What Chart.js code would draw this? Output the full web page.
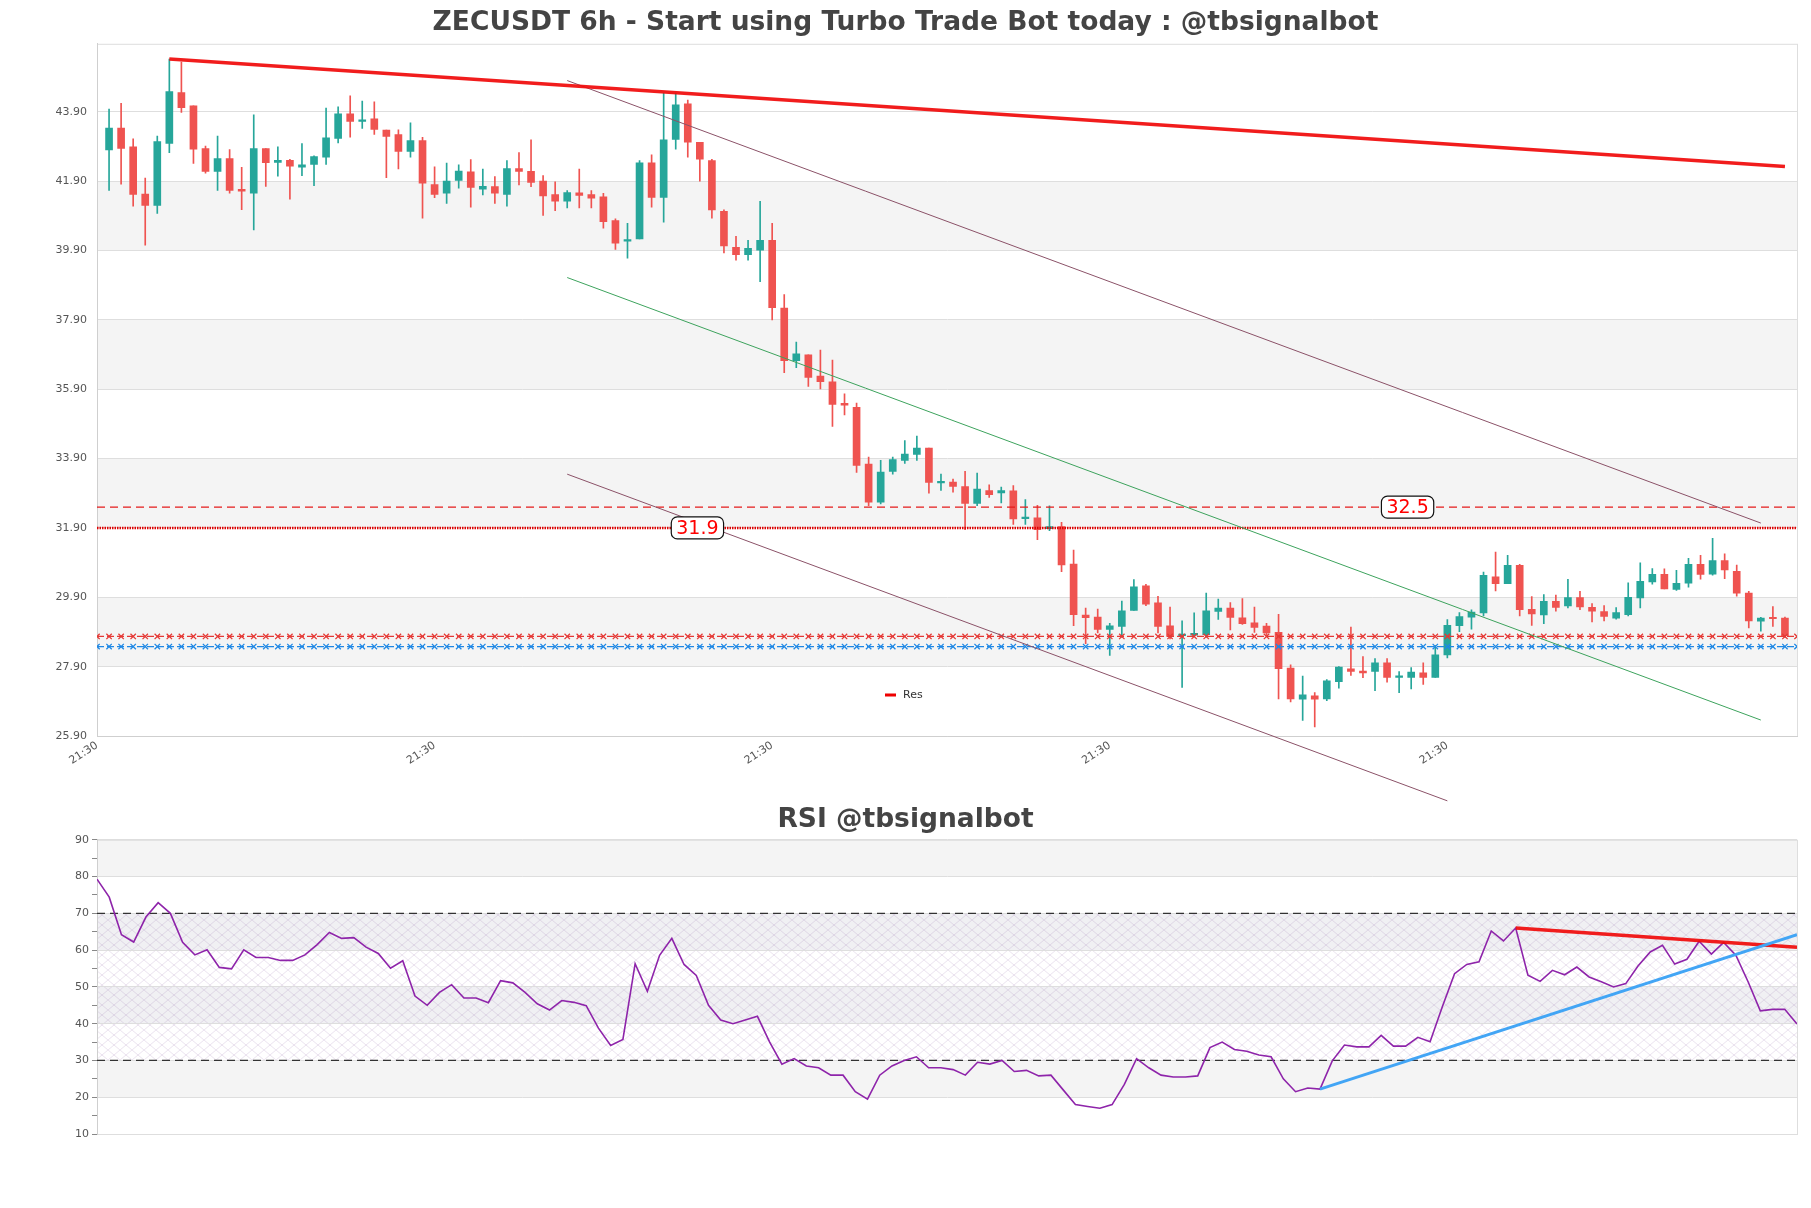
<!DOCTYPE html>
<html>
<head>
<meta charset="utf-8">
<script src="https://cdn.jsdelivr.net/npm/chart.js@4.4.0/dist/chart.umd.min.js"></script>
<style>
html, body { margin: 0; padding: 0; background: #fff; }
#wrap { position: relative; width: 1811px; height: 1208px; }
#priceBox { position: absolute; left: 0; top: 0; width: 1811px; height: 808px; }
#rsiBox { position: absolute; left: 0; top: 790px; width: 1811px; height: 418px; }
</style>
</head>
<body>
<div id="wrap">
  <div id="priceBox"><canvas id="priceChart"></canvas></div>
  <div id="rsiBox"><canvas id="rsiChart"></canvas></div>
</div>
<script>
// candles (6h), index 0..139
const opens = [42.80,43.43,42.89,41.53,41.20,42.99,44.45,44.07,42.84,42.18,42.55,41.66,41.55,42.84,42.44,42.50,42.30,42.38,42.59,43.13,
  43.84,43.62,43.70,43.37,43.24,42.76,43.07,41.80,41.55,41.92,42.17,41.67,41.74,41.52,42.26,42.18,41.90,41.51,41.32,41.56,
  41.51,41.45,40.76,40.17,40.23,42.43,41.43,43.10,44.13,43.02,42.49,41.03,39.99,39.78,39.91,40.19,38.24,36.72,36.89,36.28,
  36.11,35.49,35.38,33.74,32.64,33.53,33.85,34.02,34.20,33.20,33.22,33.09,32.61,32.98,32.91,32.97,32.17,32.19,31.88,31.94,
  30.86,29.39,29.33,28.97,29.06,29.52,30.23,29.74,29.08,28.79,28.81,28.82,29.49,29.59,29.31,29.16,29.07,28.89,27.86,26.96,
  27.06,26.97,27.47,27.84,27.77,27.76,28.01,27.59,27.59,27.72,27.59,28.24,29.08,29.33,29.45,30.49,30.29,30.82,29.55,29.39,
  29.78,29.65,29.89,29.61,29.49,29.30,29.40,29.88,30.34,30.56,30.13,30.31,30.85,30.57,30.96,30.65,30.02,29.21,29.30,29.30];
const highs = [43.98,44.14,43.12,41.99,43.20,45.42,45.33,44.07,42.91,43.20,42.81,42.30,43.81,42.84,42.89,42.53,42.98,42.63,44.01,44.04,
  44.36,44.21,44.19,43.37,43.38,43.58,43.16,42.31,42.42,42.37,42.52,42.25,42.03,42.49,42.72,43.09,42.06,41.88,41.63,42.25,
  41.63,41.55,40.81,40.68,42.49,42.66,44.44,44.44,44.24,43.02,42.53,41.07,40.31,40.19,41.32,40.68,38.63,37.26,36.89,37.03,
  36.74,35.77,35.50,33.94,33.85,33.94,34.42,34.55,34.20,33.45,33.31,33.53,33.48,33.14,33.08,33.12,32.72,32.55,32.54,32.06,
  31.26,29.59,29.56,29.15,29.79,30.41,30.27,29.93,29.62,29.22,29.45,30.02,29.85,29.75,29.86,29.62,29.15,29.41,27.95,27.63,
  27.15,27.53,27.90,29.04,28.19,28.13,28.13,27.76,27.87,28.01,28.51,29.26,29.46,29.54,30.63,31.20,31.11,30.85,29.92,29.98,
  29.96,30.42,30.07,29.72,29.66,29.60,30.32,30.89,30.73,30.72,30.68,31.02,31.11,31.60,31.15,30.83,30.07,29.32,29.63,29.33];
const lows = [41.63,41.81,41.18,40.05,40.97,42.72,43.88,42.41,42.13,41.63,41.55,41.08,40.49,41.75,42.04,41.38,42.06,41.77,42.38,43.00,
  43.17,43.42,43.25,42.00,42.25,42.59,40.83,41.42,41.26,41.70,41.15,41.50,41.26,41.18,41.79,41.74,40.91,41.05,41.13,41.13,
  41.13,40.54,39.93,39.68,40.23,41.15,40.72,42.82,42.59,41.90,40.83,39.83,39.62,39.62,39.00,37.90,36.38,36.52,35.98,35.91,
  34.83,35.16,33.50,32.54,32.59,33.45,33.76,33.85,32.90,32.98,32.93,31.85,32.54,32.78,32.62,32.00,32.00,31.56,31.82,30.64,
  29.08,28.56,28.87,28.22,28.75,29.52,29.66,28.87,28.70,27.30,28.80,28.75,29.26,28.96,29.12,28.89,28.80,26.97,26.88,26.35,
  26.16,26.92,27.28,27.65,27.58,27.21,27.45,27.15,27.26,27.39,27.59,28.15,28.91,28.98,29.36,30.08,30.29,29.36,29.09,29.14,
  29.50,29.59,29.54,29.19,29.22,29.27,29.36,29.59,30.28,30.14,30.10,30.19,30.42,30.54,30.44,29.93,29.02,28.92,29.06,28.74];
const closes = [43.43,42.84,41.52,41.20,43.04,44.48,44.02,42.82,42.18,42.55,41.63,41.61,42.84,42.43,42.50,42.33,42.37,42.61,43.15,43.84,
  43.62,43.67,43.39,43.19,42.76,43.07,41.84,41.52,41.90,42.19,41.72,41.75,41.55,42.26,42.18,41.86,41.47,41.32,41.57,41.49,
  41.41,40.73,40.11,40.21,42.43,41.43,43.09,44.10,43.02,42.53,41.07,40.03,39.78,39.96,40.19,38.25,36.72,36.92,36.24,36.12,
  35.46,35.44,33.70,32.64,33.51,33.87,34.03,34.20,33.21,33.24,33.10,32.61,33.02,32.86,32.98,32.16,32.21,31.85,31.94,30.83,
  29.40,29.31,28.97,29.08,29.51,30.20,29.70,29.06,28.77,28.84,28.86,29.51,29.59,29.32,29.14,29.03,28.87,27.84,26.97,27.09,
  26.96,27.49,27.89,27.76,27.72,28.01,27.59,27.62,27.74,27.59,28.24,29.09,29.34,29.47,30.53,30.29,30.82,29.54,29.42,29.78,
  29.61,29.89,29.62,29.50,29.35,29.46,29.90,30.36,30.56,30.14,30.30,30.85,30.56,30.96,30.69,30.02,29.22,29.30,29.28,28.79];

// RSI, one value per candle
const rsiValues = [79.3,74.4,64.2,62.2,69.0,72.9,70.0,62.1,58.7,60.1,55.3,54.9,60.1,58.0,58.0,57.2,57.2,58.7,61.5,64.8,
  63.2,63.4,60.8,59.1,55.1,57.1,47.5,45.0,48.5,50.6,47.0,47.0,45.7,51.7,51.1,48.5,45.4,43.7,46.3,45.8,
  44.9,38.8,34.1,35.7,56.3,48.8,58.6,63.2,56.1,53.1,45.0,41.0,40.0,41.0,42.0,35.0,29.0,30.5,28.5,28.0,
  26.0,26.0,21.5,19.5,26.0,28.5,30.0,31.0,28.0,28.0,27.5,26.0,29.5,29.0,30.0,27.0,27.3,25.8,26.0,22.0,
  18.0,17.5,17.0,18.0,23.5,30.5,28.0,26.0,25.5,25.5,25.8,33.5,35.0,33.0,32.5,31.5,31.0,25.0,21.5,22.5,
  22.2,29.9,34.2,33.7,33.7,36.8,33.9,33.9,36.3,35.1,44.6,53.6,56.1,56.8,65.2,62.5,66.0,53.2,51.5,54.5,
  53.3,55.4,52.7,51.4,50.0,50.9,55.7,59.5,61.3,56.2,57.5,62.4,58.9,62.1,58.6,51.4,43.5,43.9,43.9,39.9];

// levels and trend lines (index, price)
const priceTicks = [25.9, 27.9, 29.9, 31.9, 33.9, 35.9, 37.9, 39.9, 41.9, 43.9];
const timeTickIdx = [-1, 27, 55, 83, 111];
const timeTickLabel = '21:30';
const resLevel = 31.9;
const upperLevel = 32.5;
const redMarkLevel = 28.77;
const blueMarkLevel = 28.48;
const resTrend = [[5, 45.42], [139, 42.32]];
const chanTop = [[38, 44.80], [137, 32.04]];
const chanMid = [[38, 39.12], [137, 26.36]];
const chanBot = [[38, 33.45], [111, 24.03]];
const rsiSupport = [[100, 22.2], [139, 64.2]];
const rsiResist = [[116, 66.0], [139, 60.8]];

const UP = '#26a69a';
const DOWN = '#ef5350';

Chart.defaults.font.family = '"DejaVu Sans", sans-serif';
Chart.defaults.color = '#555';

const idx = opens.map((_, i) => i);
const candleColor = c => (closes[c.dataIndex] >= opens[c.dataIndex] ? UP : DOWN);
const pts = arr => arr.map(p => ({ x: p[0], y: p[1] }));
const flat = (v, from, to) => {
  const out = [];
  for (let i = from; i <= to; i++) out.push({ x: i, y: v });
  return out;
};
const line = (data, color, width, extra) => Object.assign({
  type: 'line', data, borderColor: color, borderWidth: width,
  pointRadius: 0, fill: false, tension: 0, order: 0
}, extra || {});

// empty right-hand strip so the title stays centred on the whole canvas
const rightGap = {
  position: 'right', display: true,
  grid: { display: false }, ticks: { display: false }, border: { display: false },
  afterFit: s => { s.width = 14; }
};

function roundRect(ctx, x, y, w, h, r) {
  ctx.beginPath();
  ctx.moveTo(x + r, y);
  ctx.arcTo(x + w, y, x + w, y + h, r);
  ctx.arcTo(x + w, y + h, x, y + h, r);
  ctx.arcTo(x, y + h, x, y, r);
  ctx.arcTo(x, y, x + w, y, r);
  ctx.closePath();
}

// grey bands + frame behind everything
const backdrop = {
  id: 'backdrop',
  beforeDraw(chart, args, opts) {
    const { ctx, chartArea: a } = chart;
    const y = chart.scales.y;
    ctx.save();
    (opts.bands || []).forEach(b => {
      const top = y.getPixelForValue(b[1]);
      const bottom = y.getPixelForValue(b[0]);
      ctx.fillStyle = b[2];
      ctx.fillRect(a.left, top, a.right - a.left, bottom - top);
    });
    if (opts.hatch) {
      const pc = document.createElement('canvas');
      pc.width = 12; pc.height = 10;
      const g = pc.getContext('2d');
      g.strokeStyle = 'rgba(150,110,170,0.28)';
      g.lineWidth = 0.7;
      g.beginPath();
      g.moveTo(0, 0); g.lineTo(12, 10);
      g.moveTo(12, 0); g.lineTo(0, 10);
      g.stroke();
      const top = y.getPixelForValue(opts.hatch[1]);
      const bottom = y.getPixelForValue(opts.hatch[0]);
      ctx.fillStyle = ctx.createPattern(pc, 'repeat');
      ctx.fillRect(a.left, top, a.right - a.left, bottom - top);
    }
    ctx.strokeStyle = '#dedede';
    ctx.lineWidth = 1;
    ctx.strokeRect(a.left + 0.5, a.top + 0.5, a.right - a.left, a.bottom - a.top);
    ctx.restore();
  }
};

// price tags + small legend on top
const tags = {
  id: 'tags',
  afterDraw(chart, args, opts) {
    const { ctx } = chart;
    const x = chart.scales.x, y = chart.scales.y;
    ctx.save();
    (opts.items || []).forEach(t => {
      const px = x.getPixelForValue(t.at), py = y.getPixelForValue(t.value);
      ctx.font = '19px "DejaVu Sans"';
      const w = ctx.measureText(t.text).width + 10, h = 22;
      roundRect(ctx, px - w / 2, py - h / 2, w, h, 6);
      ctx.fillStyle = '#fff';
      ctx.fill();
      ctx.strokeStyle = '#111';
      ctx.lineWidth = 1.2;
      ctx.stroke();
      ctx.fillStyle = '#f00';
      ctx.textAlign = 'center';
      ctx.textBaseline = 'middle';
      ctx.fillText(t.text, px, py + 1);
    });
    if (opts.legend) {
      const l = opts.legend;
      ctx.fillStyle = '#e00';
      ctx.fillRect(l.x, l.y - 1.5, 11, 3);
      ctx.fillStyle = '#333';
      ctx.font = '11px "DejaVu Sans"';
      ctx.textAlign = 'left';
      ctx.textBaseline = 'middle';
      ctx.fillText(l.text, l.x + 18, l.y);
    }
    ctx.restore();
  }
};

new Chart(document.getElementById('priceChart'), {
  type: 'bar',
  plugins: [backdrop, tags],
  data: {
    datasets: [
      line(pts(resTrend), 'rgba(240,10,10,0.92)', 3.5),
      line(pts(chanTop), '#8b5268', 1),
      line(pts(chanMid), '#3da35d', 1),
      line(pts(chanBot), '#8b5268', 1, { clip: false }),
      line(flat(upperLevel, -1, 140), '#e31b1b', 1.3, { borderDash: [8, 5] }),
      line(flat(resLevel, -1, 140), '#e00000', 2.5, { borderDash: [1.5, 1], label: 'Res' }),
      line(flat(redMarkLevel, -1, 140), '#e53935', 1.3, { borderDash: [7, 3], pointRadius: 3.8, pointStyle: 'crossRot', pointBorderColor: '#e53935', pointBorderWidth: 1.3 }),
      line(flat(blueMarkLevel, -1, 140), '#1e88e5', 1.3, { borderDash: [7, 3], pointRadius: 3.8, pointStyle: 'crossRot', pointBorderColor: '#1e88e5', pointBorderWidth: 1.3 }),
      {
        type: 'bar', order: 2, grouped: false, barThickness: 7, minBarLength: 1.5,
        data: idx.map(i => ({ x: i, y: [opens[i], closes[i]] })),
        backgroundColor: candleColor
      },
      {
        type: 'bar', order: 3, grouped: false, barThickness: 1,
        data: idx.map(i => ({ x: i, y: [lows[i], highs[i]] })),
        backgroundColor: candleColor
      }
    ]
  },
  options: {
    responsive: true,
    maintainAspectRatio: false,
    animation: false,
    events: [],
    layout: { padding: 0 },
    scales: {
      x: {
        type: 'linear', min: -1, max: 140, offset: false,
        afterBuildTicks: s => { s.ticks = timeTickIdx.map(v => ({ value: v })); },
        afterFit: s => { s.height = 72; },
        ticks: { callback: () => timeTickLabel, minRotation: 33, maxRotation: 33, font: { size: 11 }, color: '#555', padding: -5 },
        grid: { display: false },
        border: { color: '#cfcfcf' }
      },
      y: {
        min: 25.9, max: 45.86,
        afterBuildTicks: s => { s.ticks = priceTicks.map(v => ({ value: v })); },
        afterFit: s => { s.width = 97; },
        ticks: { callback: v => v.toFixed(2), font: { size: 11 }, color: '#555', padding: 10 },
        grid: { color: '#dedede', drawTicks: false },
        border: { color: '#cfcfcf' }
      },
      gap: rightGap
    },
    plugins: {
      legend: { display: false },
      tooltip: { enabled: false },
      title: {
        display: true,
        text: 'ZECUSDT 6h - Start using Turbo Trade Bot today : @tbsignalbot',
        color: '#444',
        font: { size: 26.5, weight: 'bold' },
        padding: { top: 7, bottom: 5 }
      },
      backdrop: {
        bands: [[27.9, 29.9, '#f4f4f4'], [31.9, 33.9, '#f4f4f4'], [35.9, 37.9, '#f4f4f4'], [39.9, 41.9, '#f4f4f4']]
      },
      tags: {
        items: [{ at: 48.8, value: resLevel, text: '31.9' }, { at: 107.7, value: upperLevel, text: '32.5' }],
        legend: { x: 885, y: 695, text: 'Res' }
      }
    }
  }
});

new Chart(document.getElementById('rsiChart'), {
  type: 'line',
  plugins: [backdrop],
  data: {
    datasets: [
      line(rsiValues.map((v, i) => ({ x: i, y: v })), '#8e24aa', 1.6, { order: 2 }),
      line(flat(70, 0, 139), '#333', 1.2, { borderDash: [8, 5], order: 3 }),
      line(flat(30, 0, 139), '#333', 1.2, { borderDash: [8, 5], order: 3 }),
      line(pts(rsiSupport), '#42a5f5', 3),
      line(pts(rsiResist), 'rgba(240,10,10,0.92)', 3.5)
    ]
  },
  options: {
    responsive: true,
    maintainAspectRatio: false,
    animation: false,
    events: [],
    layout: { padding: { bottom: 74 } },
    scales: {
      x: { type: 'linear', min: 0, max: 139, display: false },
      y: {
        min: 10, max: 90,
        afterFit: s => { s.width = 97; },
        ticks: { stepSize: 5, callback: v => (v % 10 === 0 ? v : ''), font: { size: 11 }, color: '#555', padding: 3 },
        grid: {
          color: c => (c.tick && c.tick.value % 10 === 0 ? '#dedede' : 'rgba(0,0,0,0)'),
          tickColor: '#888', tickLength: 5
        },
        border: { color: '#cfcfcf' }
      },
      gap: rightGap
    },
    plugins: {
      legend: { display: false },
      tooltip: { enabled: false },
      title: {
        display: true,
        text: 'RSI @tbsignalbot',
        color: '#444',
        font: { size: 26.5, weight: 'bold' },
        padding: { top: 14, bottom: 4 }
      },
      backdrop: {
        bands: [[80, 90, '#f4f4f4'], [60, 70, '#f0f0f3'], [40, 50, '#f0f0f3'], [20, 30, '#f4f4f4']],
        hatch: [30, 70]
      }
    }
  }
});
</script>
</body>
</html>
